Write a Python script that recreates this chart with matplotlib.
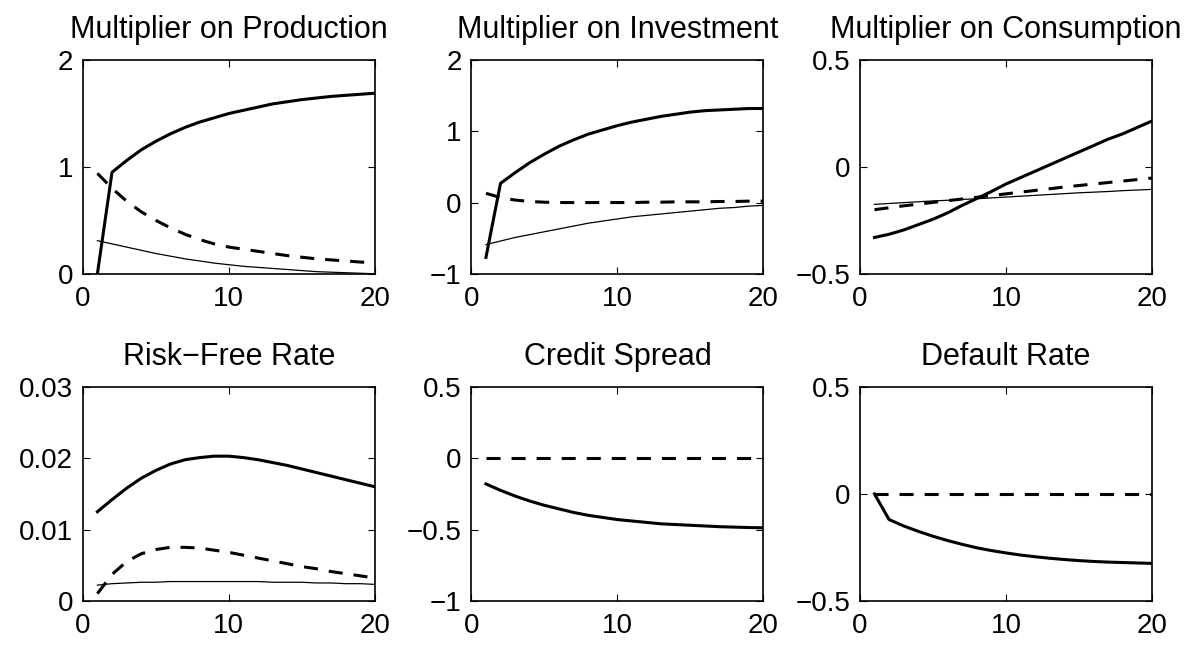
import numpy as np
import matplotlib
matplotlib.use("Agg")
import matplotlib.pyplot as plt

plt.rcParams["font.family"] = ["Liberation Sans", "DejaVu Sans"]

periods = np.arange(1, 21)

# Multiplier on Production
prod_thick = [0.0, 0.95, 1.06, 1.16, 1.24, 1.31, 1.37, 1.42, 1.46, 1.50,
              1.53, 1.56, 1.59, 1.61, 1.63, 1.645, 1.66, 1.67, 1.68, 1.69]
prod_dash = [0.94, 0.80, 0.68, 0.58, 0.50, 0.43, 0.37, 0.32, 0.28, 0.25,
             0.23, 0.21, 0.19, 0.17, 0.155, 0.14, 0.13, 0.12, 0.11, 0.10]
prod_thin = [0.31, 0.28, 0.25, 0.22, 0.19, 0.165, 0.14, 0.12, 0.10, 0.085,
             0.07, 0.06, 0.05, 0.04, 0.03, 0.02, 0.015, 0.01, 0.005, 0.0]

# Multiplier on Investment
inv_thick = [-0.77, 0.27, 0.42, 0.56, 0.68, 0.79, 0.88, 0.96, 1.02, 1.08,
             1.13, 1.17, 1.21, 1.24, 1.27, 1.29, 1.30, 1.31, 1.32, 1.32]
inv_dash = [0.13, 0.07, 0.035, 0.015, 0.005, 0.0, 0.0, 0.0, 0.0, 0.0,
            0.0, 0.005, 0.005, 0.01, 0.01, 0.01, 0.015, 0.015, 0.02, 0.02]
inv_thin = [-0.59, -0.54, -0.49, -0.45, -0.41, -0.37, -0.33, -0.29, -0.26, -0.23,
            -0.20, -0.18, -0.16, -0.14, -0.12, -0.10, -0.08, -0.07, -0.05, -0.04]

# Multiplier on Consumption
cons_thick = [-0.33, -0.315, -0.295, -0.27, -0.245, -0.215, -0.18, -0.148, -0.115, -0.08,
              -0.05, -0.02, 0.01, 0.04, 0.07, 0.10, 0.13, 0.155, 0.185, 0.215]
cons_dash = [-0.200, -0.191, -0.182, -0.174, -0.166, -0.158, -0.150, -0.142, -0.134, -0.126,
             -0.118, -0.110, -0.102, -0.094, -0.087, -0.080, -0.073, -0.066, -0.059, -0.052]
cons_thin = [-0.175, -0.171, -0.167, -0.163, -0.159, -0.156, -0.152, -0.149, -0.145, -0.141,
             -0.137, -0.133, -0.129, -0.125, -0.121, -0.118, -0.115, -0.111, -0.108, -0.105]

# Risk-Free Rate
rf_thick = [0.0125, 0.0142, 0.0158, 0.0172, 0.0183, 0.0192, 0.0198, 0.0201, 0.0203, 0.0203,
            0.0201, 0.0198, 0.0194, 0.0190, 0.0185, 0.0180, 0.0175, 0.0170, 0.0165, 0.0160]
rf_dash = [0.0010, 0.0037, 0.0055, 0.0066, 0.0072, 0.0075, 0.0075, 0.0074, 0.0071, 0.0068,
           0.0064, 0.0060, 0.0056, 0.0052, 0.0048, 0.0045, 0.0041, 0.0038, 0.0035, 0.0032]
rf_thin = [0.0022, 0.0024, 0.0025, 0.0026, 0.0026, 0.0027, 0.0027, 0.0027, 0.0027, 0.0027,
           0.0027, 0.0027, 0.0026, 0.0026, 0.0026, 0.0025, 0.0025, 0.0024, 0.0024, 0.0023]

# Credit Spread
cs_thick = [-0.18, -0.225, -0.265, -0.30, -0.33, -0.355, -0.38, -0.40, -0.415, -0.43,
            -0.44, -0.45, -0.46, -0.465, -0.47, -0.475, -0.48, -0.483, -0.486, -0.488]
cs_dash = [0.0] * 20

# Default Rate
dr_thick = [0.0, -0.12, -0.15, -0.175, -0.198, -0.218, -0.236, -0.252, -0.265, -0.276,
            -0.286, -0.294, -0.301, -0.307, -0.312, -0.316, -0.319, -0.321, -0.323, -0.325]
dr_dash = [0.0] * 20

titles = ["Multiplier on Production", "Multiplier on Investment", "Multiplier on Consumption",
          "Risk\u2212Free Rate", "Credit Spread", "Default Rate"]
ylims = [(0, 2), (-1, 2), (-0.5, 0.5), (0, 0.03), (-1, 0.5), (-0.5, 0.5)]
yticks = [[0, 1, 2], [-1, 0, 1, 2], [-0.5, 0, 0.5],
          [0, 0.01, 0.02, 0.03], [-1, -0.5, 0, 0.5], [-0.5, 0, 0.5]]
ylabels = [["0", "1", "2"], ["\u22121", "0", "1", "2"], ["\u22120.5", "0", "0.5"],
           ["0", "0.01", "0.02", "0.03"], ["\u22121", "\u22120.5", "0", "0.5"],
           ["\u22120.5", "0", "0.5"]]
series = [(prod_thick, prod_dash, prod_thin), (inv_thick, inv_dash, inv_thin),
          (cons_thick, cons_dash, cons_thin), (rf_thick, rf_dash, rf_thin),
          (cs_thick, cs_dash, None), (dr_thick, dr_dash, None)]

fig, axes = plt.subplots(2, 3, figsize=(12, 6.46), dpi=100)
fig.subplots_adjust(left=0.069, right=0.96, top=0.907, bottom=0.07, wspace=0.33, hspace=0.53)

for ax, title, yl, yt, ylab, (thick, dash, thin) in zip(axes.flat, titles, ylims, yticks, ylabels, series):
    ax.plot(periods, thick, color="black", lw=2.2)
    ax.plot(periods, dash, color="black", lw=2.2, linestyle=(0, (4.6, 3.6)))
    if thin is not None:
        ax.plot(periods, thin, color="black", lw=0.9)
    ax.set_xlim(0, 20)
    ax.set_ylim(*yl)
    ax.set_xticks([0, 10, 20])
    ax.set_yticks(yt)
    ax.set_yticklabels(ylab)
    ax.tick_params(direction="in", top=True, right=True, length=5, width=0.8, labelsize=20)
    ax.tick_params(axis="x", pad=9)
    ax.tick_params(axis="y", pad=7)
    for sp in ax.spines.values():
        sp.set_linewidth(1.2)
    ax.set_title(title, fontsize=22, pad=16)

fig.savefig("out.png", dpi=100)
